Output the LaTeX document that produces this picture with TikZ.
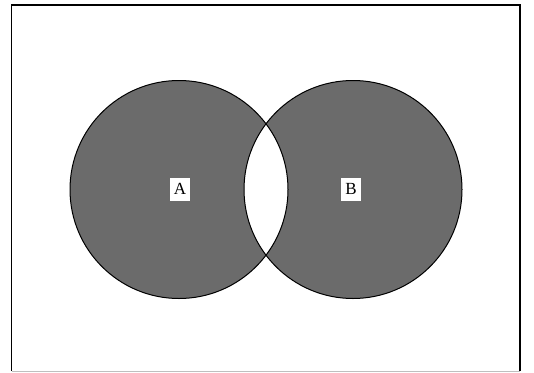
\documentclass[tikz,border=0pt]{standalone}
\usepackage{fontspec}
\setmainfont{Liberation Serif}
\begin{document}
\begin{tikzpicture}[x=1pt,y=-1pt,
  outline/.style={draw=black,line width=1pt},
  shade/.style={fill=black!58},
  lbl/.style={fill=white,inner sep=0pt,minimum width=20pt,minimum height=23pt,font=\fontsize{17}{19}\selectfont}]
\useasboundingbox (0,0) rectangle (534,372);
\fill[white] (0,0) rectangle (534,372);
\draw[line width=1.2pt] (11.5,371) -- (11.5,5) -- (520,5) -- (520,371);
\draw[black!25,line width=0.8pt] (11.5,371) -- (520,371);
\fill[shade,even odd rule] (179,189.5) circle[radius=109] (353,189.5) circle[radius=109];
\draw[outline] (179,189.5) circle[radius=109];
\draw[outline] (353,189.5) circle[radius=109];
\node[lbl] (A) at (180,189) {A};
\node[lbl] (B) at (351,189) {B};
\end{tikzpicture}
\end{document}
